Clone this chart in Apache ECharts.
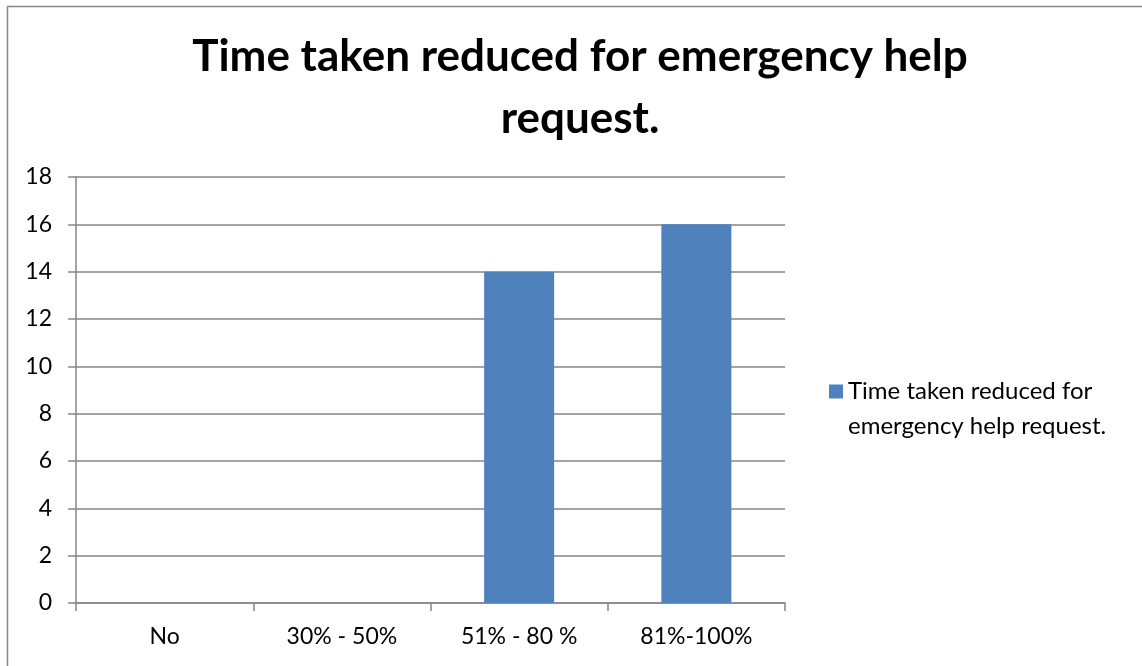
<!DOCTYPE html>
<html>
<head>
<meta charset="utf-8">
<script src="https://cdn.jsdelivr.net/npm/echarts@6/dist/echarts.min.js"></script>
<style>
  html, body { margin: 0; padding: 0; background: #fff; }
  #chart { width: 1142px; height: 666px; }
</style>
</head>
<body>
<div id="chart"></div>
<script>
// Survey responses: how much the emergency help request time was reduced
const categories = ['No', '30% - 50%', '51% - 80 %', '81%-100%'];
const counts = [0, 0, 14, 16];
const seriesName = 'Time taken reduced for emergency help request.';
const chartTitle = 'Time taken reduced for emergency help\nrequest.';
// leading blank line keeps the legend swatch level with the first text line
const legendLines = ' \nTime taken reduced for\nemergency help request.';

const FONT = 'Lato, "Open Sans", sans-serif';
const chart = echarts.init(document.getElementById('chart'), null, { renderer: 'canvas' });

chart.setOption({
  animation: false,
  backgroundColor: '#ffffff',
  title: {
    text: chartTitle,
    left: 575,
    top: 21,
    textAlign: 'center',
    textStyle: {
      fontFamily: FONT,
      fontWeight: 'bold',
      fontSize: 44,
      lineHeight: 62,
      color: '#000000'
    }
  },
  graphic: [{
    type: 'rect',
    shape: { x: 7.5, y: 6.5, width: 1160, height: 700 },
    style: { fill: 'none', stroke: '#888888', lineWidth: 1.5 },
    silent: true
  }],
  legend: {
    left: 829,
    top: 339,
    padding: 0,
    orient: 'vertical',
    itemWidth: 14,
    itemHeight: 14,
    icon: 'rect',
    formatter: () => legendLines,
    textStyle: {
      fontFamily: FONT,
      fontSize: 24,
      lineHeight: 35,
      color: '#000000'
    },
    data: [seriesName]
  },
  grid: {
    left: 76,
    top: 177,
    width: 709,
    height: 426,
    containLabel: false
  },
  xAxis: {
    type: 'category',
    data: categories,
    boundaryGap: true,
    axisLine: { show: true, lineStyle: { color: '#868686', width: 1.5 } },
    axisTick: { show: true, length: 8, alignWithLabel: false, lineStyle: { color: '#868686', width: 1.5 } },
    axisLabel: {
      fontFamily: FONT,
      fontSize: 23,
      color: '#000000',
      margin: 22
    },
    splitLine: { show: false }
  },
  yAxis: {
    type: 'value',
    min: 0,
    max: 18,
    interval: 2,
    axisLine: { show: true, lineStyle: { color: '#868686', width: 1.5 } },
    axisTick: { show: true, length: 8, lineStyle: { color: '#868686', width: 1.5 } },
    axisLabel: {
      fontFamily: FONT,
      fontSize: 23,
      color: '#000000',
      margin: 24
    },
    splitLine: { show: true, lineStyle: { color: '#868686', width: 1.5 } }
  },
  series: [{
    name: seriesName,
    type: 'bar',
    data: counts,
    barWidth: '39.5%',
    itemStyle: { color: '#4F81BD' }
  }]
});
</script>
</body>
</html>
